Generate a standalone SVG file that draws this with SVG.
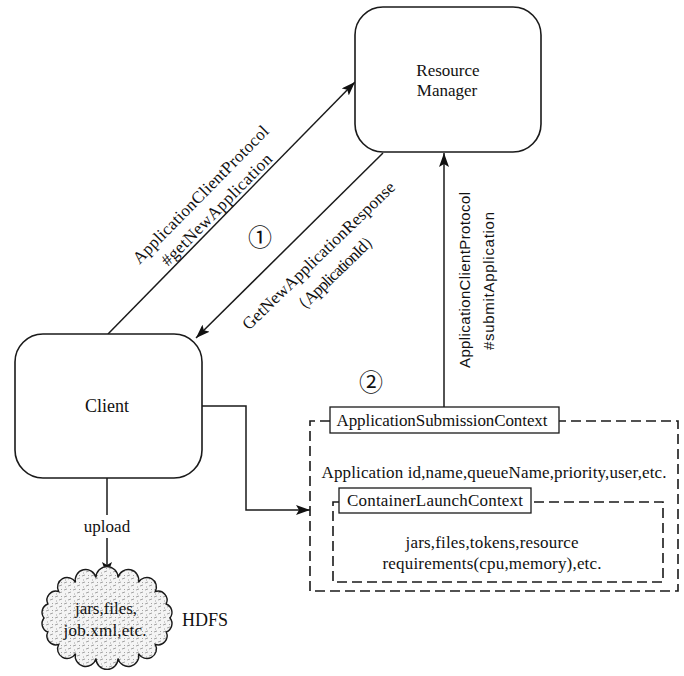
<svg xmlns="http://www.w3.org/2000/svg" width="684" height="676" viewBox="0 0 684 676">
  <style>
    .box { fill: #ffffff; stroke: #1a1a1a; stroke-width: 1.6; }
    .tag { fill: #ffffff; stroke: #1a1a1a; stroke-width: 1.3; }
    .dash { fill: none; stroke: #1a1a1a; stroke-width: 1.6; stroke-dasharray: 10 5; }
    .line { fill: none; stroke: #1a1a1a; stroke-width: 1.5; }
    .serif { font-family: "Liberation Serif", "Times New Roman", serif; fill: #111111; }
    .sans { font-family: "Liberation Sans", Arial, sans-serif; fill: #111111; }
    .num { font-family: "Noto Sans CJK SC", "DejaVu Sans", sans-serif; fill: #111111; }
  </style>
  <defs>
    <marker id="arrow" markerWidth="14" markerHeight="10" refX="14" refY="5" orient="auto" markerUnits="userSpaceOnUse">
      <path d="M0,0 L14,5 L0,10 L3,5 z" fill="#111111"/>
    </marker>
    <pattern id="grain" width="9" height="7" patternUnits="userSpaceOnUse">
      <rect width="9" height="7" fill="#f4f4f4"/>
      <path d="M1,2 L4,1 M5,5 L8,4 M2,6 L3,6 M7,1 L8,2" stroke="#9a9a9a" stroke-width="0.9"/>
    </pattern>
  </defs>

  <rect width="684" height="676" fill="#ffffff"/>

  <!-- connectors -->
  <g id="connectors">
    <!-- getNewApplication request -->
    <line class="line" x1="108" y1="334" x2="355" y2="82" marker-end="url(#arrow)"/>
    <!-- response back to client -->
    <line class="line" x1="383" y1="153" x2="196" y2="338" marker-end="url(#arrow)"/>
    <!-- submitApplication -->
    <line class="line" x1="444" y1="407" x2="444" y2="153" marker-end="url(#arrow)"/>
    <!-- client builds submission context -->
    <polyline class="line" points="202,406 246,406 246,510 310,510" marker-end="url(#arrow)"/>
    <!-- upload to HDFS -->
    <line class="line" x1="107" y1="478" x2="107" y2="515"/>
    <line class="line" x1="107" y1="538" x2="107" y2="576" marker-end="url(#arrow)"/>

    <text class="serif" font-size="17" transform="translate(201,195) rotate(-45.5)" x="0" y="5" text-anchor="middle" textLength="186">ApplicationClientProtocol</text>
    <text class="serif" font-size="17" transform="translate(217,210) rotate(-45.5)" x="0" y="5" text-anchor="middle" textLength="150">#getNewApplication</text>

    <text class="serif" font-size="17" transform="translate(319,256) rotate(-44)" x="0" y="5" text-anchor="middle" textLength="205">GetNewApplicationResponse</text>
    <text class="serif" font-size="17" transform="translate(336,273) rotate(-44)" x="0" y="5" text-anchor="middle" textLength="114">（ApplicationId）</text>

    <text class="sans" font-size="15" transform="translate(465,280) rotate(-90)" x="0" y="5" text-anchor="middle" textLength="176">ApplicationClientProtocol</text>
    <text class="sans" font-size="15" transform="translate(489,281) rotate(-90)" x="0" y="5" text-anchor="middle" textLength="138">#submitApplication</text>

    <text class="serif" font-size="17" x="107" y="532" text-anchor="middle">upload</text>

    <text class="num" font-size="24" x="260" y="246" text-anchor="middle">①</text>
    <text class="num" font-size="24" x="371" y="391" text-anchor="middle">②</text>
  </g>

  <!-- Resource Manager -->
  <g id="resource-manager">
    <rect class="box" x="355" y="7" width="186" height="145" rx="28" ry="28"/>
    <text class="serif" font-size="17" x="448" y="76" text-anchor="middle">Resource</text>
    <text class="serif" font-size="17" x="447" y="96" text-anchor="middle">Manager</text>
  </g>

  <!-- Client -->
  <g id="client">
    <rect class="box" x="15" y="334" width="187" height="144" rx="28" ry="28"/>
    <text class="serif" font-size="18" x="107" y="412" text-anchor="middle">Client</text>
  </g>

  <!-- Application submission context -->
  <g id="submission-context">
    <path class="dash" d="M330,421 L310,421 L310,591 L678,591 L678,421 L559,421"/>
    <rect class="tag" x="330" y="407" width="229" height="26"/>
    <text class="serif" font-size="17" x="442" y="426" text-anchor="middle" textLength="211">ApplicationSubmissionContext</text>
    <text class="serif" font-size="17" x="494" y="478" text-anchor="middle" textLength="345">Application id,name,queueName,priority,user,etc.</text>
  </g>

  <!-- Container launch context -->
  <g id="launch-context">
    <path class="dash" d="M339,502 L333,502 L333,582 L663,582 L663,502 L531,502"/>
    <rect class="tag" x="339" y="488" width="192" height="25"/>
    <text class="serif" font-size="17" x="435" y="506" text-anchor="middle" textLength="176">ContainerLaunchContext</text>
    <text class="serif" font-size="17" x="492" y="548" text-anchor="middle" textLength="173">jars,files,tokens,resource</text>
    <text class="serif" font-size="17" x="492" y="569" text-anchor="middle" textLength="219">requirements(cpu,memory),etc.</text>
  </g>

  <!-- HDFS cloud -->
  <g id="hdfs">
    <path d="M170,618 A9,9 0 0 1 166.2,632 A9,9 0 0 1 155.3,644.4 A9,9 0 0 1 138.5,653.5 A9,9 0 0 1 118,658.4 A9,9 0 0 1 96,658.4 A9,9 0 0 1 75.5,653.5 A9,9 0 0 1 58.7,644.4 A9,9 0 0 1 47.8,632 A9,9 0 0 1 44,618 A9,9 0 0 1 47.8,604 A9,9 0 0 1 58.7,591.6 A9,9 0 0 1 75.5,582.5 A9,9 0 0 1 96,577.6 A9,9 0 0 1 118,577.6 A9,9 0 0 1 138.5,582.5 A9,9 0 0 1 155.3,591.6 A9,9 0 0 1 166.2,604 A9,9 0 0 1 170,618 z" fill="url(#grain)" stroke="#1a1a1a" stroke-width="1.4"/>
    <text class="serif" font-size="17" x="106" y="614" text-anchor="middle" textLength="62">jars,files,</text>
    <text class="serif" font-size="17" x="105" y="636" text-anchor="middle" textLength="83">job.xml,etc.</text>
    <text class="serif" font-size="18" x="205" y="626" text-anchor="middle">HDFS</text>
  </g>
</svg>
